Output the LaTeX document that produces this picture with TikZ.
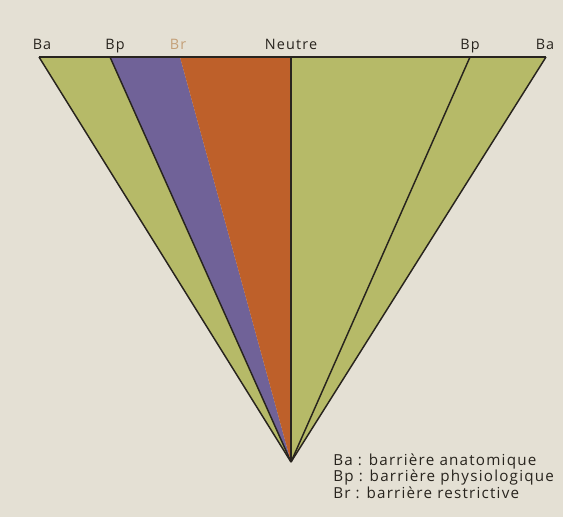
\documentclass[tikz,border=0pt]{standalone}
\usepackage{fontspec}
\setmainfont{Open Sans}[LetterSpace=8]
\usetikzlibrary{positioning,calc}
\definecolor{paper}{RGB}{228,224,212}
\definecolor{olive}{RGB}{182,186,104}
\definecolor{violet}{RGB}{112,98,152}
\definecolor{rust}{RGB}{190,96,42}
\definecolor{brtext}{RGB}{196,160,120}
\definecolor{ink}{RGB}{40,36,30}

\begin{document}
\begin{tikzpicture}[
  x=0.75pt, y=-0.75pt,
  edge/.style={draw=ink, line width=1.1pt},
  top/.style={font=\fontsize{10.8}{12}\selectfont, text=ink, anchor=base, inner sep=1pt},
  legend/.style={font=\fontsize{11.4}{13}\selectfont, text=ink, anchor=base west, inner sep=0pt}
]
% page
\fill[paper] (0,0) rectangle (563,517);
\useasboundingbox (0,0) rectangle (563,517);

% corners of the triangle
\coordinate (apex) at (291,462);
\coordinate (BaL) at (39,57);
\coordinate (BpL) at (110,57);
\coordinate (BrL) at (180,57);
\coordinate (Neu) at (291,57);
\coordinate (BpR) at (470,57);
\coordinate (BaR) at (546,57);

% zones
\fill[olive]  (BaL) -- (BpL) -- (apex) -- cycle;
\fill[violet] (BpL) -- (BrL) -- (apex) -- cycle;
\fill[rust]   (BrL) -- (Neu) -- (apex) -- cycle;
\fill[olive]  (Neu) -- (BaR) -- (apex) -- cycle;

% barriers
\draw[edge] (BaL) -- (BaR);
\draw[edge] (BaL) -- (apex);
\draw[edge] (BpL) -- (apex);
\draw[edge] (Neu) -- (apex);
\draw[edge] (BpR) -- (apex);
\draw[edge] (BaR) -- (apex);

% labels on top
\node[top] (lBaL) at (42,50) {Ba};
\node[top] (lBpL) at (115,50) {Bp};
\node[top, text=brtext] (lBr) at (178,50) {Br};
\node[top] (lNeu) at (291,50) {Neutre};
\node[top] (lBpR) at (470,50) {Bp};
\node[top] (lBaR) at (545,50) {Ba};

% legend
\node[legend] (k1) at (333,465) {Ba : barrière anatomique};
\node[legend] (k2) at (333,481.5) {Bp : barrière physiologique};
\node[legend] (k3) at (333,498) {Br : barrière restrictive};
\end{tikzpicture}
\end{document}
